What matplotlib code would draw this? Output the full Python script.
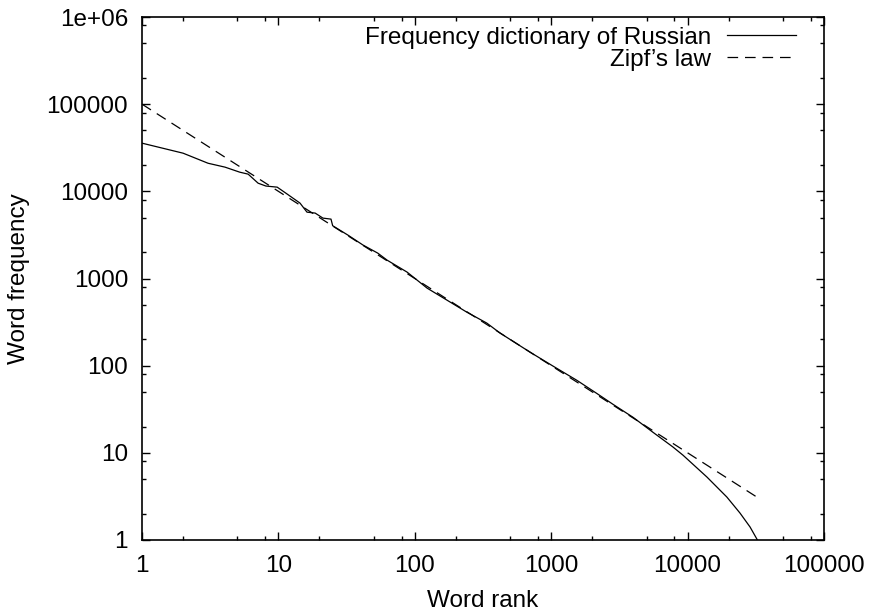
import matplotlib
matplotlib.use('Agg')
import matplotlib.pyplot as plt
from matplotlib.ticker import LogLocator, FuncFormatter, NullFormatter

# word rank / frequency
rank = [1, 2, 3.05, 4.06, 5.2, 6.0, 7.1, 8.1, 9.8, 11.6, 14.4, 16.2, 18.6,
        21.2, 24.3, 25, 32.3, 41.7, 53.5, 62.6, 87.7, 104, 123, 172, 240,
        337, 421, 699, 1030, 1540, 2160, 2840, 3990, 5520, 7790, 9250,
        13870, 19400, 24200, 28700, 32500]
freq = [35700, 27400, 21000, 18950, 16600, 15750, 12400, 11500, 11170, 9300,
        7330, 5770, 5630, 4930, 4800, 4030, 3150, 2420, 1955, 1625, 1185,
        958, 776, 565, 412, 308, 237, 143, 99, 68, 48, 36, 25.5, 17.4,
        11.7, 9.4, 5.27, 3.11, 2.04, 1.41, 1.0]

# Zipf's law line, f = 100000 / r
zipf_rank = [1, 32800]
zipf_freq = [100000, 3.05]

plt.rcParams['font.family'] = ['Liberation Sans', 'DejaVu Sans']
fs = 17.5

fig = plt.figure(figsize=(8.71, 6.14), dpi=100)
ax = fig.add_axes([142 / 871, 74 / 614, 682 / 871, 523 / 614])

ax.plot(rank, freq, color='k', lw=0.9, label='Frequency dictionary of Russian')
ax.plot(zipf_rank, zipf_freq, color='k', lw=0.9, dashes=(8.5, 5.5),
        label="Zipf\u2019s law")

ax.set_xscale('log')
ax.set_yscale('log')
ax.set_xlim(1, 100000)
ax.set_ylim(1, 1e6)

fmt = FuncFormatter(lambda v, p: '%g' % v)
for axis in (ax.xaxis, ax.yaxis):
    axis.set_major_locator(LogLocator(base=10, numticks=10))
    axis.set_minor_locator(LogLocator(base=10, subs=(2, 5, 8), numticks=10))
    axis.set_major_formatter(fmt)
    axis.set_minor_formatter(NullFormatter())

ax.tick_params(which='both', direction='in', top=True, right=True,
               labelsize=fs, width=1.0)
ax.tick_params(axis='x', which='major', length=6, pad=11)
ax.tick_params(axis='y', which='major', length=6, pad=10)
ax.tick_params(which='minor', length=3)
for s in ax.spines.values():
    s.set_linewidth(1.2)

ax.set_xlabel('Word rank', fontsize=fs)
ax.set_ylabel('Word frequency', fontsize=fs)
ax.xaxis.set_label_coords(0.5, -0.096)
ax.yaxis.set_label_coords(-0.164, 0.5)

ax.legend(loc='upper right', frameon=False, markerfirst=False, fontsize=fs,
          handlelength=2.85, handletextpad=0.65, labelspacing=0.0,
          borderaxespad=0.0, bbox_to_anchor=(0.973, 1.0))

fig.savefig('out.png', dpi=100)
